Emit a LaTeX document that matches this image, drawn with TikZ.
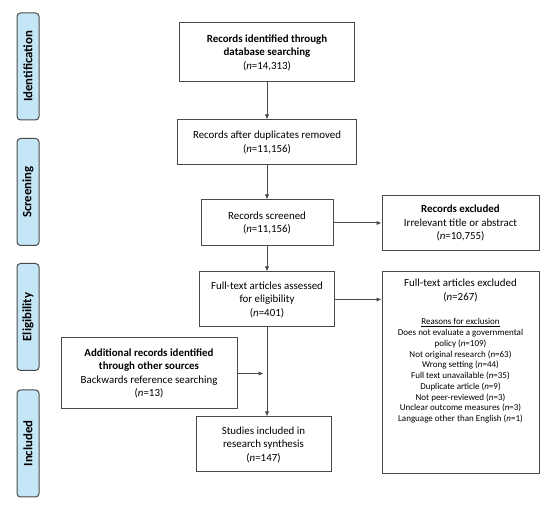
\documentclass[tikz,border=0pt]{standalone}
\usepackage{fontspec}
\setmainfont{Carlito}
\usetikzlibrary{arrows.meta}
\definecolor{lc}{HTML}{4A4A4A}
\definecolor{pill}{HTML}{C5E6F7}
\begin{document}
\begin{tikzpicture}[x=1pt,y=-1pt,
  box/.style={draw=lc,line width=1pt,fill=white,align=center,inner sep=2pt,
    font=\fontsize{10.9}{13.5}\selectfont},
  stage/.style={draw=lc,line width=1pt,fill=pill,rounded corners=3.5pt,
    minimum width=22pt,minimum height=107pt,inner sep=0pt},
  stagetxt/.style={rotate=90,font=\fontsize{12.8}{14}\selectfont\bfseries},
  arr/.style={draw=lc,line width=1pt,-{Latex[length=5pt,width=4.5pt]}}]
\useasboundingbox (0,0) rectangle (550,510);
% stage pills
\node[stage] (s1) at (28,66.5) {};
\node[stagetxt] (t1) at (s1.center) {Identification};
\node[stage] (s2) at (28,192) {};
\node[stagetxt] (t2) at (s2.center) {Screening};
\node[stage] (s3) at (28,317) {};
\node[stagetxt] (t3) at (s3.center) {Eligibility};
\node[stage] (s4) at (28,443.5) {};
\node[stagetxt] (t4) at (s4.center) {Included};
% boxes
\node[box,minimum width=175pt,minimum height=59pt] (b1) at (267,52.5)
  {\textbf{Records identified through}\\\textbf{database searching}\\(\textit{n}=14,313)};
\node[box,minimum width=179pt,minimum height=45pt] (b2) at (267,142.5)
  {Records after duplicates removed\\(\textit{n}=11,156)};
\node[box,minimum width=132pt,minimum height=46pt] (b3) at (267,223)
  {Records screened\\(\textit{n}=11,156)};
\node[box,minimum width=157pt,minimum height=55pt] (e1) at (460.5,223)
  {\textbf{Records excluded}\\Irrelevant title or abstract\\(\textit{n}=10,755)};
\node[box,minimum width=135pt,minimum height=55pt] (b4) at (267,299.5)
  {Full-text articles assessed\\for eligibility\\(\textit{n}=401)};
\node[box,minimum width=157pt,minimum height=202pt] (e2) at (460.5,373) {};
\node[align=center,anchor=north,inner sep=0pt,font=\fontsize{10.9}{13.5}\selectfont] (e2t) at (460.5,279)
  {Full-text articles excluded\\(\textit{n}=267)};
\node[align=center,anchor=north,inner sep=0pt,font=\fontsize{9}{10.75}\selectfont] (e2r) at (460.5,318.5)
  {\underline{Reasons for exclusion}\\
   Does not evaluate a governmental\\
   policy (\textit{n}=109)\\
   Not original research (\textit{n}=63)\\
   Wrong setting (\textit{n}=44)\\
   Full text unavailable (\textit{n}=35)\\
   Duplicate article (\textit{n}=9)\\
   Not peer-reviewed (\textit{n}=3)\\
   Unclear outcome measures (\textit{n}=3)\\
   Language other than English (\textit{n}=1)};
\node[box,minimum width=176pt,minimum height=71pt] (ad) at (149,373.5)
  {\textbf{Additional records identified}\\\textbf{through other sources}\\Backwards reference searching\\(\textit{n}=13)};
\node[box,minimum width=135pt,minimum height=55pt] (b5) at (263.5,444.5)
  {Studies included in\\research synthesis\\(\textit{n}=147)};
\coordinate (j) at (263.5,373.5);
% connectors
\draw[arr] (b1.south) -- (b2.north);
\draw[arr] (b2.south) -- (b3.north);
\draw[arr] (b3.south) -- (b4.north);
\draw[arr] (b4.south) -- (b4.south |- b5.north);
\draw[arr] (b3.east) -- (e1.west |- b3.east);
\draw[arr] (b4.east) -- (e2.west |- b4.east);
\draw[arr] (ad.east) -- (j);
\end{tikzpicture}
\end{document}
